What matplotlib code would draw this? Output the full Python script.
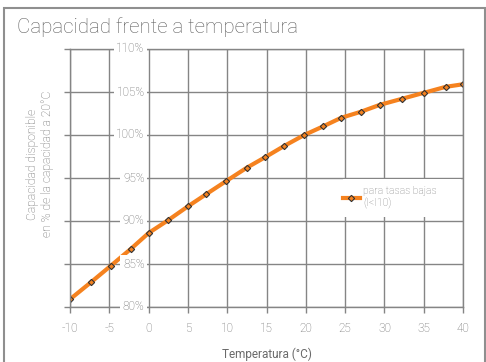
import matplotlib
matplotlib.use('Agg')
import matplotlib.pyplot as plt
import matplotlib.patches as patches
from matplotlib.lines import Line2D

# datos
temperatura = [-10, -7.3, -4.8, -2.2, 0, 2.5, 5, 7.3, 9.8, 12.5, 14.8,
               17.2, 19.8, 22.2, 24.5, 27, 29.4, 32.2, 35, 37.8, 40]
capacidad = [80.9, 82.9, 84.8, 86.8, 88.6, 90.1, 91.7, 93.1, 94.6, 96.2, 97.4,
             98.7, 100.0, 101.0, 102.0, 102.7, 103.5, 104.2, 104.9, 105.6, 105.9]
x_ticks = [-10, -5, 0, 5, 10, 15, 20, 25, 30, 35, 40]
y_ticks = [80, 85, 90, 95, 100, 105, 110]
y_labels = [str(v) + '%' for v in y_ticks]

titulo = 'Capacidad frente a temperatura'
etiqueta_y = 'Capacidad disponible\nen % de la capacidad a 20°C'
etiqueta_x = 'Temperatura (°C)'
leyenda = 'para tasas bajas\n(I<I10)'

naranja = '#f5821f'
gris_linea = '#858585'
gris_texto = '#6a6a6a'

plt.rcParams['font.family'] = ['Roboto', 'DejaVu Sans']
plt.rcParams['font.weight'] = 'light'
plt.rcParams['axes.unicode_minus'] = False

fig = plt.figure(figsize=(4.86, 3.62), dpi=100)
ax = fig.add_axes([70 / 486, 1 - 307 / 362, 393 / 486, 258 / 362])

ax.set_xlim(-10, 40)
ax.set_ylim(80, 110)
ax.set_axisbelow(True)
ax.grid(True, color=gris_linea, linewidth=1)

ax.plot(temperatura, capacidad, color=naranja, linewidth=3, zorder=2,
        marker='D', markersize=3.2, markerfacecolor=naranja,
        markeredgecolor='#333333', markeredgewidth=0.8)

for s in ax.spines.values():
    s.set_color(gris_linea)
    s.set_linewidth(1)

ax.set_xticks(x_ticks)
ax.set_yticks(y_ticks)
ax.set_yticklabels([])
ax.tick_params(axis='both', direction='out', length=4, width=1, color=gris_linea,
               labelcolor=gris_texto, labelsize=8.5, pad=7)

# etiquetas del eje y dentro del área, sobre x = 0
for v, lab in zip(y_ticks, y_labels):
    ax.annotate(lab, xy=(0, v), xytext=(-4, 0), textcoords='offset pixels',
                ha='right', va='center', fontsize=8.5, color=gris_texto, zorder=10,
                annotation_clip=False,
                bbox=dict(boxstyle='square,pad=0.22', facecolor='white', edgecolor='none'))

ax.set_xlabel(etiqueta_x, fontsize=8.5, color=gris_texto, labelpad=9)
fig.text(40 / 486, 1 - 164 / 362, etiqueta_y, rotation=90, ha='center', va='center',
         fontsize=8.7, color=gris_texto, linespacing=1.15)

# leyenda con fondo blanco
ax.add_patch(patches.Rectangle((0.695, 0.349), 0.3, 0.147, transform=ax.transAxes,
                               facecolor='white', edgecolor='none', zorder=1))
h = Line2D([], [], color=naranja, linewidth=3, marker='D', markersize=3.2,
           markerfacecolor=naranja, markeredgecolor='#333333', markeredgewidth=0.8)
ax.legend([h], [leyenda], loc='center left', bbox_to_anchor=(0.695, 0.424),
          frameon=False, fontsize=7.5, labelcolor='#808080', handlelength=1.6,
          handletextpad=0.3, borderaxespad=0, borderpad=0)

fig.text(17 / 486, 1 - 33 / 362, titulo, fontsize=14.8, color='#5e5e5e', va='baseline')
fig.patches.append(patches.Rectangle((4 / 486, -0.1), 481 / 486, 1.078, transform=fig.transFigure,
                                     fill=False, edgecolor='#8f8f8f', linewidth=1.5))

fig.savefig('out.png', dpi=100)
